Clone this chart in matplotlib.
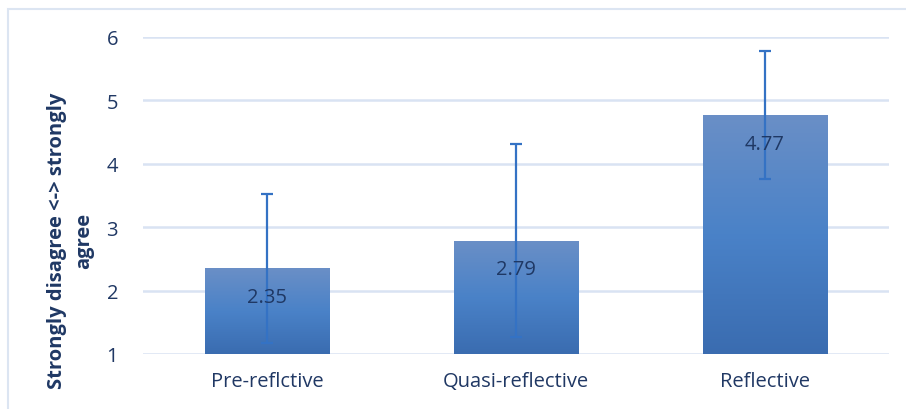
import matplotlib.pyplot as plt
import matplotlib.patches as mpatches
from matplotlib.colors import LinearSegmentedColormap
import numpy as np

# data
categories = ['Pre-reflctive', 'Quasi-reflective', 'Reflective']
means = [2.35, 2.79, 4.77]
errors = [1.17, 1.52, 1.01]
yticks = [1, 2, 3, 4, 5, 6]

text_col = '#1f3864'
tick_col = '#203864'
grid_col = '#d9e3f3'

plt.rcParams['font.family'] = ['Open Sans', 'DejaVu Sans']

fig = plt.figure(figsize=(9.06, 4.10), dpi=100)
# chart area border
fig.patches.append(mpatches.Rectangle((8 / 906, -0.01), 1.0, 1 - 9.5 / 410 + 0.01,
                                      transform=fig.transFigure, fill=False,
                                      edgecolor='#dce5f2', linewidth=1.5))

ax = fig.add_axes([143 / 906, 1 - 355 / 410, (889 - 143) / 906, (355 - 38) / 410])

x = np.arange(len(categories))
heights = [m - 1 for m in means]
bars = ax.bar(x, heights, width=0.5, bottom=1, color='none', zorder=2)

# vertical gradient fill for each bar
grad = np.linspace(0, 1, 256).reshape(-1, 1)
cmap = LinearSegmentedColormap.from_list('g', ['#3a6cb0', '#4a82c8', '#6a8fc6'])
for b in bars:
    x0, y0 = b.get_x(), b.get_y()
    w, h = b.get_width(), b.get_height()
    im = ax.imshow(grad, cmap=cmap, aspect='auto', origin='lower',
                   extent=[x0, x0 + w, y0, y0 + h], zorder=2)
    im.set_clip_path(b)

ax.errorbar(x, means, yerr=errors, fmt='none', ecolor='#3472c4',
            elinewidth=1.6, capsize=4.5, capthick=1.6, zorder=3)

for xi, m in zip(x, means):
    ax.text(xi, m - 0.45, f'{m:.2f}', ha='center', va='center',
            fontsize=14.5, color=text_col, zorder=4)

ax.set_xlim(-0.5, 2.5)
ax.set_ylim(1, 6)
ax.set_yticks(yticks)
ax.set_xticks(x)
ax.set_xticklabels(categories)
ax.tick_params(axis='both', length=0, labelsize=14.5, colors=tick_col)
ax.tick_params(axis='y', pad=18)
ax.tick_params(axis='x', pad=12)
ax.yaxis.grid(True, color=grid_col, linewidth=1.8, zorder=0)
ax.set_axisbelow(True)
for s in ax.spines.values():
    s.set_visible(False)

ax.set_ylabel('Strongly disagree <-> strongly\nagree', fontsize=14.5,
              fontweight='bold', color=text_col, linespacing=1.45)
ax.yaxis.set_label_coords(-0.066, 0.36)

fig.savefig('out.png', dpi=100)
